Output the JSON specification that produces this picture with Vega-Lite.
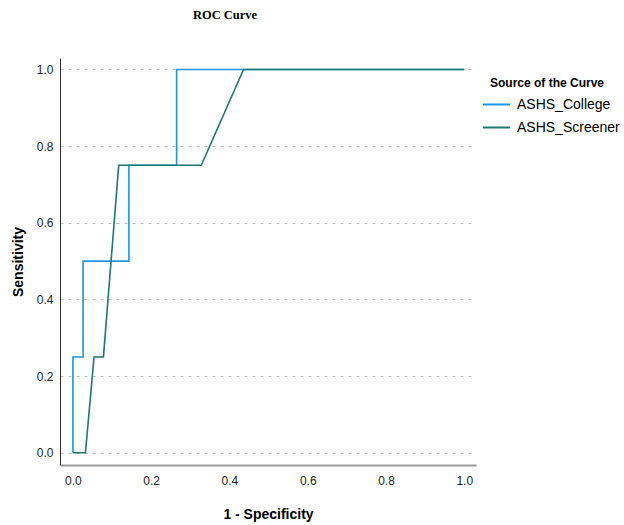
{
  "$schema": "https://vega.github.io/schema/vega-lite/v6.json",
  "width": 416,
  "height": 407,
  "autosize": {"type": "none"},
  "padding": {"left": 60, "top": 58, "right": 148, "bottom": 60},
  "background": "white",
  "title": {
    "text": "ROC Curve",
    "font": "Liberation Serif",
    "fontSize": 12.5,
    "fontWeight": "bold",
    "color": "#000000",
    "anchor": "middle",
    "dx": -43,
    "offset": 37
  },
  "config": {
    "view": {"stroke": null},
    "font": "Liberation Sans"
  },
  "data": {
    "values": [
      {"source": "ASHS_College", "step": 1, "fpr": 0.0, "tpr": 0.0},
      {"source": "ASHS_College", "step": 2, "fpr": 0.0, "tpr": 0.25},
      {"source": "ASHS_College", "step": 3, "fpr": 0.026, "tpr": 0.25},
      {"source": "ASHS_College", "step": 4, "fpr": 0.026, "tpr": 0.5},
      {"source": "ASHS_College", "step": 5, "fpr": 0.143, "tpr": 0.5},
      {"source": "ASHS_College", "step": 6, "fpr": 0.143, "tpr": 0.75},
      {"source": "ASHS_College", "step": 7, "fpr": 0.265, "tpr": 0.75},
      {"source": "ASHS_College", "step": 8, "fpr": 0.265, "tpr": 1.0},
      {"source": "ASHS_College", "step": 9, "fpr": 1.0, "tpr": 1.0},
      {"source": "ASHS_Screener", "step": 1, "fpr": 0.0, "tpr": 0.0},
      {"source": "ASHS_Screener", "step": 2, "fpr": 0.032, "tpr": 0.0},
      {"source": "ASHS_Screener", "step": 3, "fpr": 0.054, "tpr": 0.25},
      {"source": "ASHS_Screener", "step": 4, "fpr": 0.078, "tpr": 0.25},
      {"source": "ASHS_Screener", "step": 5, "fpr": 0.117, "tpr": 0.75},
      {"source": "ASHS_Screener", "step": 6, "fpr": 0.328, "tpr": 0.75},
      {"source": "ASHS_Screener", "step": 7, "fpr": 0.436, "tpr": 1.0},
      {"source": "ASHS_Screener", "step": 8, "fpr": 1.0, "tpr": 1.0}
    ]
  },
  "mark": {"type": "line", "strokeWidth": 1.6, "interpolate": "linear"},
  "encoding": {
    "x": {
      "field": "fpr",
      "type": "quantitative",
      "scale": {"domain": [-0.033, 1.03], "nice": false, "zero": false},
      "axis": {
        "title": "1 - Specificity",
        "values": [0, 0.2, 0.4, 0.6, 0.8, 1.0],
        "format": ".1f",
        "grid": false,
        "ticks": false,
        "domainColor": "#999999",
        "domainWidth": 2,
        "labelFont": "Liberation Sans",
        "labelFontSize": 12,
        "labelColor": "#222222",
        "labelPadding": 10,
        "titleFont": "Liberation Sans",
        "titleFontSize": 14,
        "titleFontWeight": "bold",
        "titleColor": "#000000",
        "titlePadding": 21
      }
    },
    "y": {
      "field": "tpr",
      "type": "quantitative",
      "scale": {"domain": [-0.032, 1.03], "nice": false, "zero": false},
      "axis": {
        "title": "Sensitivity",
        "values": [0, 0.2, 0.4, 0.6, 0.8, 1.0],
        "format": ".1f",
        "grid": true,
        "gridColor": "#bbbbbb",
        "gridDash": [3, 5],
        "gridWidth": 1,
        "ticks": false,
        "domainColor": "#333333",
        "domainWidth": 1,
        "labelFont": "Liberation Sans",
        "labelFontSize": 12,
        "labelColor": "#222222",
        "labelPadding": 7,
        "titleFont": "Liberation Sans",
        "titleFontSize": 14,
        "titleFontWeight": "bold",
        "titleColor": "#000000",
        "titlePadding": 11
      }
    },
    "color": {
      "field": "source",
      "type": "nominal",
      "scale": {"domain": ["ASHS_College", "ASHS_Screener"], "range": ["#1e96e2", "#1c7a72"]},
      "legend": {
        "title": "Source of the Curve",
        "orient": "none",
        "legendX": 430,
        "legendY": 20,
        "titleFont": "Liberation Sans",
        "titleFontSize": 12,
        "titleFontWeight": "bold",
        "titleColor": "#000000",
        "titlePadding": 0,
        "labelFont": "Liberation Sans",
        "labelFontSize": 14,
        "labelColor": "#000000",
        "labelOffset": 6,
        "symbolType": "stroke",
        "symbolSize": 729,
        "symbolStrokeWidth": 2,
        "symbolOffset": -8,
        "rowPadding": 1
      }
    },
    "order": {"field": "step", "type": "quantitative"}
  }
}
